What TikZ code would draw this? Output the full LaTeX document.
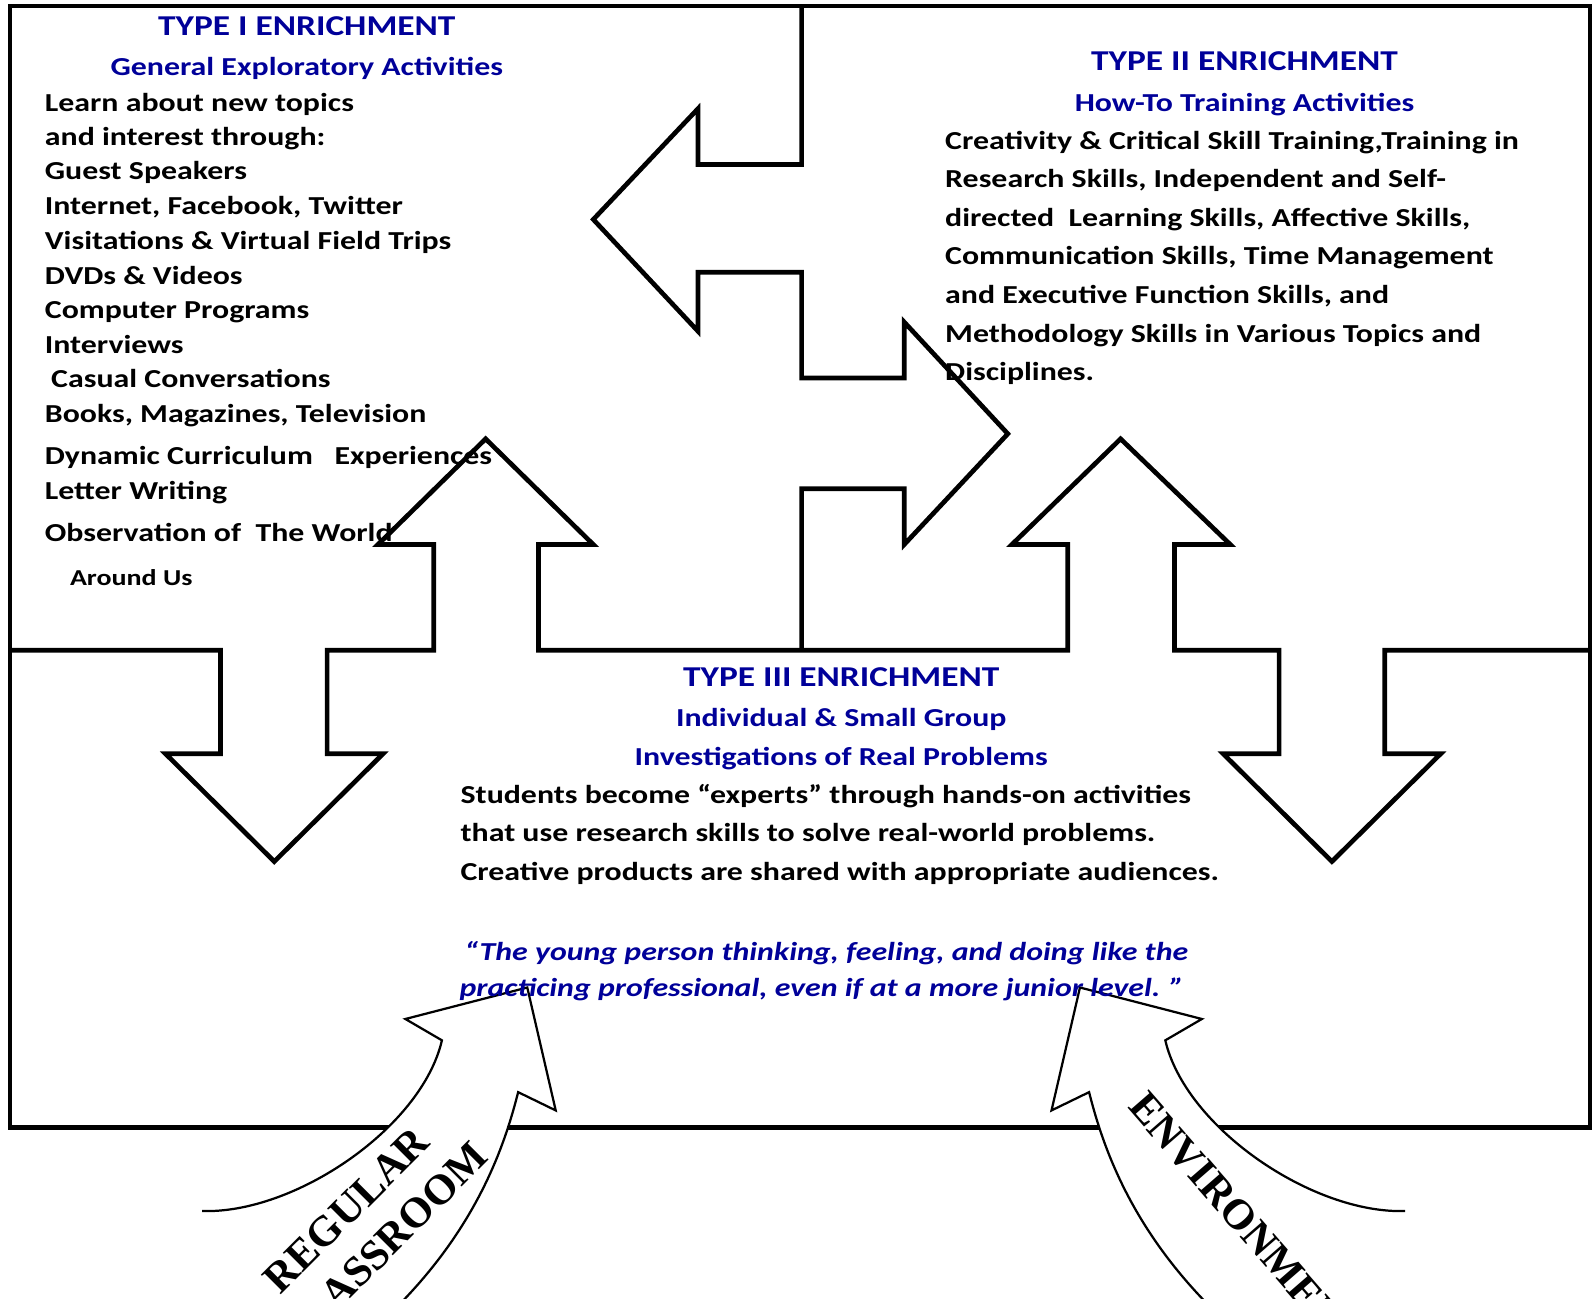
\documentclass[tikz,border=0pt]{standalone}
\usepackage{fontspec}
\setmainfont{Carlito}[FakeStretch=1.23]
\newfontfamily\labelserif{Liberation Serif}
\definecolor{enrichblue}{RGB}{0,0,153}

\begin{document}
\begin{tikzpicture}[x=0.5pt,y=-0.5pt,
  boxline/.style={line width=2.3pt, line join=miter, miter limit=10},
  bendline/.style={line width=1.1pt, line join=miter, miter limit=10},
  ttl/.style={font=\fontsize{14.15pt}{17pt}\selectfont\bfseries, text=enrichblue, inner sep=0pt, anchor=base},
  subttl/.style={font=\fontsize{12.75pt}{15pt}\selectfont\bfseries, text=enrichblue, inner sep=0pt, anchor=base},
  bodytxt/.style={font=\fontsize{12.75pt}{15pt}\selectfont\bfseries, inner sep=0pt, anchor=base west},
  smalltxt/.style={font=\fontsize{11.2pt}{13pt}\selectfont\bfseries, inner sep=0pt, anchor=base west},
  quotetxt/.style={font=\fontsize{12.75pt}{15pt}\selectfont\bfseries\itshape, text=enrichblue, inner sep=0pt, anchor=base west},
  bendlabel/.style={font=\labelserif\fontsize{21pt}{24pt}\selectfont\bfseries, inner sep=0pt}
]
\useasboundingbox (0,0) rectangle (1568,1278);
\clip (0,0) rectangle (1568,1278);

% outer frame
\draw[boxline] (10,6) rectangle (1565,1110);

% boundary between Type I and Type II, with its two block arrows
\draw[boxline] (789,6) -- (789,162) -- (687,162) -- (687,107) -- (584,216) -- (687,326)
  -- (687,268) -- (789,268) -- (789,372) -- (890,372) -- (890,317) -- (992,427)
  -- (890,536) -- (890,481) -- (789,481) -- (789,640);

% boundary above Type III, with the four vertical block arrows
\draw[boxline] (10,640) -- (217,640) -- (217,742) -- (163,742) -- (270,848) -- (377,742)
  -- (322,742) -- (322,640) -- (427,640) -- (427,536) -- (372,536) -- (478,432)
  -- (584,536) -- (530,536) -- (530,640) -- (1051,640) -- (1051,536) -- (996,536)
  -- (1103,432) -- (1211,536) -- (1156,536) -- (1156,640) -- (1259,640) -- (1259,742)
  -- (1204,742) -- (1311,848) -- (1418,742) -- (1363,742) -- (1363,640) -- (1565,640);

% curved arrow from the regular classroom (left)
\fill[white] (519,972) -- (547,1093) -- (510,1075)
  .. controls (495,1135) and (465,1215) .. (382,1295) -- (382,1320) -- (190,1320) -- (199,1192)
  .. controls (290,1195) and (415,1110) .. (435,1024) -- (399,1003) -- cycle;
\draw[bendline] (199,1192) .. controls (290,1195) and (415,1110) .. (435,1024)
  -- (399,1003) -- (519,972) -- (547,1093) -- (510,1075)
  .. controls (495,1135) and (465,1215) .. (382,1295);

% curved arrow from the environment (right)
\fill[white] (1063,972) -- (1035,1093) -- (1072,1075)
  .. controls (1087,1135) and (1117,1215) .. (1200,1295) -- (1200,1320) -- (1392,1320) -- (1383,1192)
  .. controls (1292,1195) and (1167,1110) .. (1147,1024) -- (1183,1003) -- cycle;
\draw[bendline] (1383,1192) .. controls (1292,1195) and (1167,1110) .. (1147,1024)
  -- (1183,1003) -- (1063,972) -- (1035,1093) -- (1072,1075)
  .. controls (1087,1135) and (1117,1215) .. (1200,1295);

\node[bendlabel, rotate=45] (regular) at (341,1191) {REGULAR};
\node[bendlabel, rotate=45] (classroom) at (377,1227) {CLASSROOM};
\node[bendlabel, rotate=-49] (environment) at (1226,1204) {ENVIRONMENT};

% Type I
\node[ttl] (t1title) at (302,34.5) {TYPE I ENRICHMENT};
\node[subttl] (t1sub) at (302,74.8) {General Exploratory Activities};
\node[bodytxt] (t1a) at (43.8,110) {Learn about new topics};
\node[bodytxt] (t1b) at (43.8,143.5) {and interest through:};
\node[bodytxt] (t1c) at (43.8,177) {Guest Speakers};
\node[bodytxt] (t1d) at (43.8,211.5) {Internet, Facebook, Twitter};
\node[bodytxt] (t1e) at (43.8,245.5) {Visitations \& Virtual Field Trips};
\node[bodytxt] (t1f) at (43.8,280) {DVDs \& Videos};
\node[bodytxt] (t1g) at (43.8,313.5) {Computer Programs};
\node[bodytxt] (t1h) at (43.8,347.5) {Interviews};
\node[bodytxt] (t1i) at (50,381.5) {Casual Conversations};
\node[bodytxt] (t1j) at (43.8,415.5) {Books, Magazines, Television};
\node[bodytxt] (t1k) at (43.8,457.7) {Dynamic Curriculum\ \ \ Experiences};
\node[bodytxt] (t1l) at (43.8,491.5) {Letter Writing};
\node[bodytxt] (t1m) at (43.8,533) {Observation of\ \ The World};
\node[smalltxt] (t1n) at (68.5,576.5) {Around Us};

% Type II
\node[ttl] (t2title) at (1225,69.6) {TYPE II ENRICHMENT};
\node[subttl] (t2sub) at (1225,109.3) {How-To Training Activities};
\node[bodytxt] (t2a) at (930,146.7) {Creativity \& Critical Skill Training,Training in};
\node[bodytxt] (t2b) at (930,184.7) {Research Skills, Independent and Self-};
\node[bodytxt] (t2c) at (930,223) {directed\ \ Learning Skills, Affective Skills,};
\node[bodytxt] (t2d) at (930,260.8) {Communication Skills, Time Management};
\node[bodytxt] (t2e) at (930,299.2) {and Executive Function Skills, and};
\node[bodytxt] (t2f) at (930,337.3) {Methodology Skills in Various Topics and};
\node[bodytxt] (t2g) at (930,375) {Disciplines.};

% Type III
\node[ttl] (t3title) at (828,675.9) {TYPE III ENRICHMENT};
\node[subttl] (t3suba) at (828,715.3) {Individual \& Small Group};
\node[subttl] (t3subb) at (828,753) {Investigations of Real Problems};
\node[bodytxt] (t3a) at (453,790.7) {Students become “experts” through hands-on activities};
\node[bodytxt] (t3b) at (453,828.5) {that use research skills to solve real-world problems.};
\node[bodytxt] (t3c) at (453,866.5) {Creative products are shared with appropriate audiences.};
\node[quotetxt] (q1) at (457,945) {“The young person thinking, feeling, and doing like the};
\node[quotetxt] (q2) at (452,981) {practicing professional, even if at a more junior level. ”};
\end{tikzpicture}
\end{document}
